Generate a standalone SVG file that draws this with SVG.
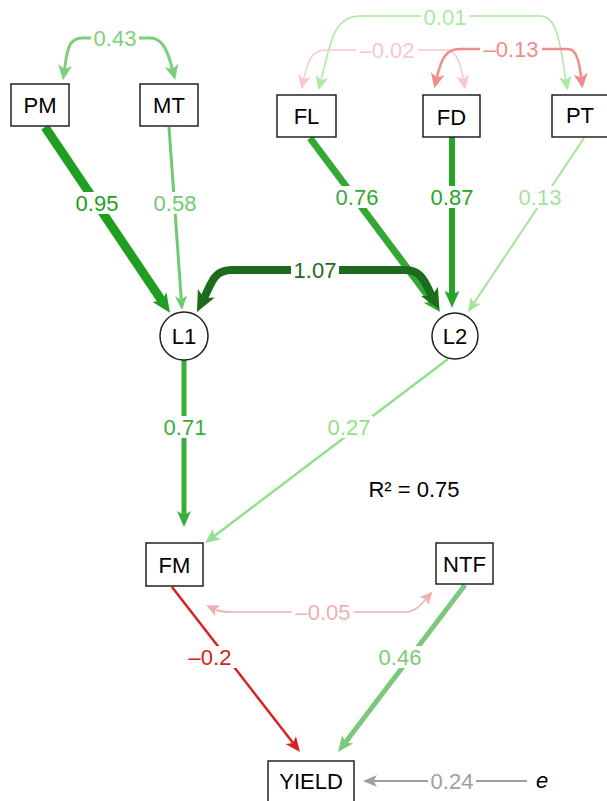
<svg xmlns="http://www.w3.org/2000/svg" width="607" height="801" viewBox="0 0 607 801">
<style>
text{font-family:"Liberation Sans",Arial,sans-serif;}
.node rect,.node circle{fill:#fff;stroke:#222;stroke-width:1.5;}
.node text{font-size:22px;fill:#000;text-anchor:middle;}
.e{fill:none;}
.lbl text{font-size:22px;text-anchor:middle;}
.lbl rect{fill:#fff;}
</style>
<defs>
<marker id="hPM" viewBox="0 0 12 10" refX="3" refY="5" markerUnits="userSpaceOnUse" markerWidth="19" markerHeight="17" preserveAspectRatio="none" orient="auto"><path d="M0,0 L12,5 L0,10 L3,5 z" fill="#1f9e1f"/></marker>
<marker id="hMT" viewBox="0 0 12 10" refX="3" refY="5" markerUnits="userSpaceOnUse" markerWidth="14" markerHeight="12" preserveAspectRatio="none" orient="auto"><path d="M0,0 L12,5 L0,10 L3,5 z" fill="#6fca6f"/></marker>
<marker id="hFL" viewBox="0 0 12 10" refX="3" refY="5" markerUnits="userSpaceOnUse" markerWidth="17" markerHeight="15" preserveAspectRatio="none" orient="auto"><path d="M0,0 L12,5 L0,10 L3,5 z" fill="#34a834"/></marker>
<marker id="hFD" viewBox="0 0 12 10" refX="3" refY="5" markerUnits="userSpaceOnUse" markerWidth="17" markerHeight="15" preserveAspectRatio="none" orient="auto"><path d="M0,0 L12,5 L0,10 L3,5 z" fill="#27a327"/></marker>
<marker id="hPT" viewBox="0 0 12 10" refX="3" refY="5" markerUnits="userSpaceOnUse" markerWidth="14" markerHeight="12" preserveAspectRatio="none" orient="auto"><path d="M0,0 L12,5 L0,10 L3,5 z" fill="#a3e39a"/></marker>
<marker id="hL12" viewBox="0 0 12 10" refX="3" refY="5" markerUnits="userSpaceOnUse" markerWidth="21" markerHeight="19" preserveAspectRatio="none" orient="auto-start-reverse"><path d="M0,0 L12,5 L0,10 L3,5 z" fill="#1d6b1d"/></marker>
<marker id="hL1F" viewBox="0 0 12 10" refX="3" refY="5" markerUnits="userSpaceOnUse" markerWidth="16" markerHeight="14" preserveAspectRatio="none" orient="auto"><path d="M0,0 L12,5 L0,10 L3,5 z" fill="#3aae3a"/></marker>
<marker id="hL2F" viewBox="0 0 12 10" refX="3" refY="5" markerUnits="userSpaceOnUse" markerWidth="15" markerHeight="13" preserveAspectRatio="none" orient="auto"><path d="M0,0 L12,5 L0,10 L3,5 z" fill="#8fe088"/></marker>
<marker id="h043" viewBox="0 0 12 10" refX="3" refY="5" markerUnits="userSpaceOnUse" markerWidth="15" markerHeight="14" preserveAspectRatio="none" orient="auto-start-reverse"><path d="M0,0 L12,5 L0,10 L3,5 z" fill="#7dcf7d"/></marker>
<marker id="h001" viewBox="0 0 12 10" refX="3" refY="5" markerUnits="userSpaceOnUse" markerWidth="14" markerHeight="13" preserveAspectRatio="none" orient="auto-start-reverse"><path d="M0,0 L12,5 L0,10 L3,5 z" fill="#a8eaa0"/></marker>
<marker id="h002" viewBox="0 0 12 10" refX="3" refY="5" markerUnits="userSpaceOnUse" markerWidth="14" markerHeight="13" preserveAspectRatio="none" orient="auto-start-reverse"><path d="M0,0 L12,5 L0,10 L3,5 z" fill="#f7c9c9"/></marker>
<marker id="h013" viewBox="0 0 12 10" refX="3" refY="5" markerUnits="userSpaceOnUse" markerWidth="15" markerHeight="14" preserveAspectRatio="none" orient="auto-start-reverse"><path d="M0,0 L12,5 L0,10 L3,5 z" fill="#f08c8c"/></marker>
<marker id="h005" viewBox="0 0 12 10" refX="3" refY="5" markerUnits="userSpaceOnUse" markerWidth="13" markerHeight="12" preserveAspectRatio="none" orient="auto-start-reverse"><path d="M0,0 L12,5 L0,10 L3,5 z" fill="#f0b0b0"/></marker>
<marker id="hFMY" viewBox="0 0 12 10" refX="3" refY="5" markerUnits="userSpaceOnUse" markerWidth="15" markerHeight="13" preserveAspectRatio="none" orient="auto"><path d="M0,0 L12,5 L0,10 L3,5 z" fill="#d92020"/></marker>
<marker id="hNTF" viewBox="0 0 12 10" refX="3" refY="5" markerUnits="userSpaceOnUse" markerWidth="16" markerHeight="14" preserveAspectRatio="none" orient="auto"><path d="M0,0 L12,5 L0,10 L3,5 z" fill="#7cc87c"/></marker>
<marker id="hE" viewBox="0 0 12 10" refX="3" refY="5" markerUnits="userSpaceOnUse" markerWidth="14" markerHeight="12" preserveAspectRatio="none" orient="auto"><path d="M0,0 L12,5 L0,10 L3,5 z" fill="#a0a0a0"/></marker>
</defs>

<g id="connectors">
<path class="e" d="M45,127 L162,301" stroke="#1f9e1f" stroke-width="9" marker-end="url(#hPM)"/>
<path class="e" d="M169,127 L181.3,299.5" stroke="#6fca6f" stroke-width="3" marker-end="url(#hMT)"/>
<path class="e" d="M310,138 L432.4,301.8" stroke="#34a834" stroke-width="7" marker-end="url(#hFL)"/>
<path class="e" d="M452,137 L452,295" stroke="#27a327" stroke-width="6" marker-end="url(#hFD)"/>
<path class="e" d="M584,138 L473.8,303.3" stroke="#a3e39a" stroke-width="2" marker-end="url(#hPT)"/>
<path class="e" d="M204,298 C212,282 214,270 232,270 L405,270 C422,270 425,283 432,296" stroke="#1d6b1d" stroke-width="8" marker-start="url(#hL12)" marker-end="url(#hL12)"/>
<path class="e" d="M184,360 L184,515" stroke="#3aae3a" stroke-width="5" marker-end="url(#hL1F)"/>
<path class="e" d="M448,359 L214,536.3" stroke="#8fe088" stroke-width="2.5" marker-end="url(#hL2F)"/>
<path class="e" d="M172,587 L293.1,743.1" stroke="#d92020" stroke-width="2.5" marker-end="url(#hFMY)"/>
<path class="e" d="M465,585 L345.3,742.4" stroke="#7cc87c" stroke-width="5" marker-end="url(#hNTF)"/>
<path class="e" d="M527,781 L373.5,781" stroke="#a0a0a0" stroke-width="2" marker-end="url(#hE)"/>
<path class="e" d="M215,609.5 C220,612 225,612 235,612 L405,612 C415,612 420,606 426,599" stroke="#f0b0b0" stroke-width="1.5" marker-start="url(#h005)" marker-end="url(#h005)"/>
<path class="e" d="M64.6,69 C67,52 68,38 82,38 L150,38 C163,38 168,52 172.4,69" stroke="#7dcf7d" stroke-width="3" marker-start="url(#h043)" marker-end="url(#h043)"/>
<path class="e" d="M321.2,79.9 C330,45 333,16 360,16 L540,16 C558,16 560,45 565.8,79.9" stroke="#a8eaa0" stroke-width="1.5" marker-start="url(#h001)" marker-end="url(#h001)"/>
<path class="e" d="M303.7,79.1 C308,60 312,50 326,50 L445,50 C455,50 460,60 463.3,79.1" stroke="#f7c9c9" stroke-width="1.5" marker-start="url(#h002)" marker-end="url(#h002)"/>
<path class="e" d="M436.9,77.4 C441,60 445,49 460,49 L568,49 C576,49 579,60 581.1,77.4" stroke="#f08c8c" stroke-width="2.5" marker-start="url(#h013)" marker-end="url(#h013)"/>

<g class="lbl">
<rect x="91" y="27" width="48" height="22"/><text x="115" y="46" fill="#7dcf7d">0.43</text>
<rect x="421" y="5" width="48" height="22"/><text x="445" y="24.5" fill="#a8eaa0">0.01</text>
<rect x="356" y="39" width="62" height="22"/><text x="387" y="58" fill="#f7c9c9">–0.02</text>
<rect x="480" y="38" width="62" height="22"/><text x="511" y="57" fill="#f08c8c">–0.13</text>
<rect x="73" y="192" width="48" height="22"/><text x="97" y="211" fill="#1f9e1f">0.95</text>
<rect x="151" y="192" width="48" height="22"/><text x="175" y="211" fill="#6fca6f">0.58</text>
<rect x="333" y="186" width="48" height="22"/><text x="357" y="205" fill="#34a834">0.76</text>
<rect x="428" y="186" width="48" height="22"/><text x="452" y="205" fill="#27a327">0.87</text>
<rect x="516" y="186" width="48" height="22"/><text x="540" y="205" fill="#a3e39a">0.13</text>
<rect x="291" y="259" width="48" height="22"/><text x="315" y="278" fill="#1d6b1d">1.07</text>
<rect x="161" y="416" width="48" height="22"/><text x="185" y="435" fill="#3aae3a">0.71</text>
<rect x="325" y="416" width="48" height="22"/><text x="349" y="435" fill="#8fe088">0.27</text>
<rect x="292" y="601" width="62" height="22"/><text x="323" y="620" fill="#f0b0b0">–0.05</text>
<rect x="184" y="646" width="52" height="22"/><text x="210" y="665" fill="#d92020">–0.2</text>
<rect x="376" y="646" width="48" height="22"/><text x="400" y="665" fill="#7cc87c">0.46</text>
<rect x="428" y="770" width="48" height="22"/><text x="452" y="789" fill="#a0a0a0">0.24</text>
</g>
</g>

<g id="node-PM" class="node"><rect x="11" y="84" width="58" height="42"/><text x="40" y="113">PM</text></g>
<g id="node-MT" class="node"><rect x="140" y="84" width="58" height="42"/><text x="169" y="113">MT</text></g>
<g id="node-FL" class="node"><rect x="277" y="95" width="59" height="42"/><text x="306.5" y="124">FL</text></g>
<g id="node-FD" class="node"><rect x="423" y="95" width="57" height="42"/><text x="451.5" y="125">FD</text></g>
<g id="node-PT" class="node"><rect x="552" y="95" width="56" height="42"/><text x="580" y="123">PT</text></g>
<g id="node-L1" class="node"><circle cx="184" cy="336" r="24"/><text x="184" y="344">L1</text></g>
<g id="node-L2" class="node"><circle cx="455" cy="336" r="23"/><text x="455" y="344">L2</text></g>
<g id="node-FM" class="node"><rect x="146" y="543" width="57" height="43"/><text x="174.5" y="573">FM</text></g>
<g id="node-NTF" class="node"><rect x="436" y="543" width="57" height="41"/><text x="464.5" y="571.5">NTF</text></g>
<g id="node-YIELD" class="node"><rect x="268" y="761" width="86" height="42"/><text x="311" y="789">YIELD</text></g>
<g id="node-e"><text x="542" y="788" font-size="22" font-style="italic" text-anchor="middle" fill="#000">e</text></g>
<g id="r2"><text x="414" y="497" font-size="22" text-anchor="middle" fill="#000">R² = 0.75</text></g>
</svg>
